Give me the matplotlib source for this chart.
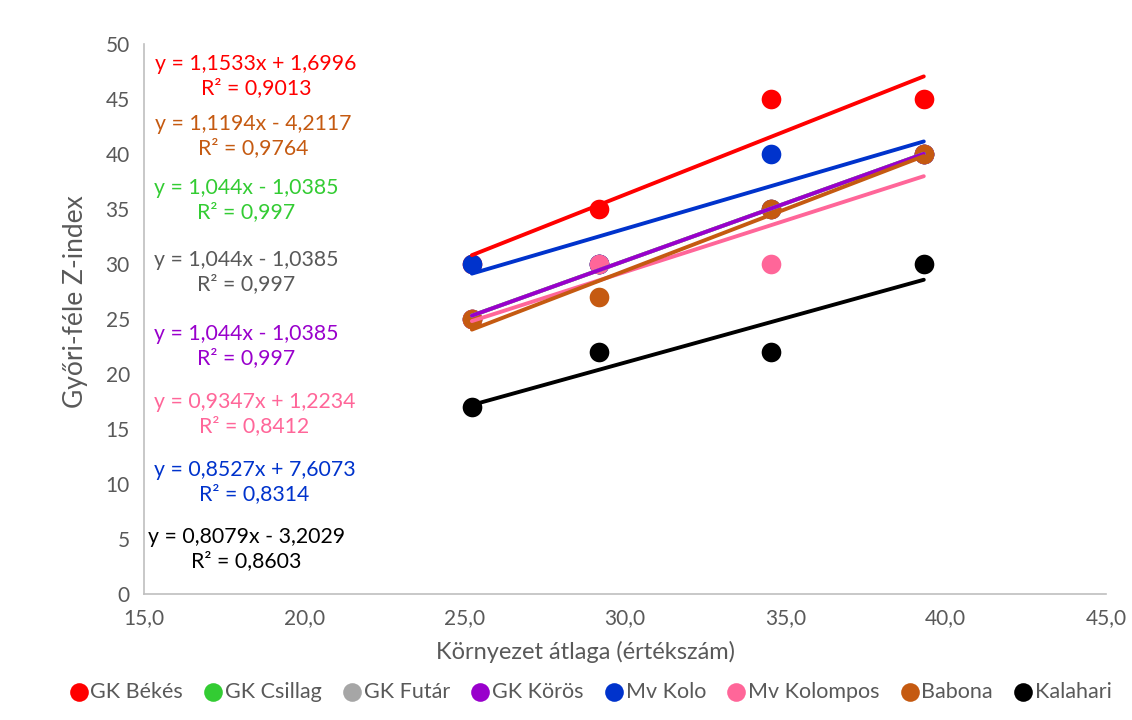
import matplotlib
matplotlib.use('Agg')
import matplotlib.pyplot as plt
import numpy as np

# environment means (x) shared by all genotypes
env_mean = [25.23, 29.19, 34.55, 39.32]

series = ['GK Békés', 'GK Csillag', 'GK Futár', 'GK Körös',
          'Mv Kolo', 'Mv Kolompos', 'Babona', 'Kalahari']
z_bekes = [30, 35, 45, 45]
z_csillag = [25, 30, 35, 40]
z_futar = [25, 30, 35, 40]
z_koros = [25, 30, 35, 40]
z_kolo = [30, 30, 40, 40]
z_kolompos = [25, 30, 30, 40]
z_babona = [25, 27, 35, 40]
z_kalahari = [17, 22, 22, 30]
z_values = [z_bekes, z_csillag, z_futar, z_koros,
            z_kolo, z_kolompos, z_babona, z_kalahari]

# trendline coefficients as printed on the chart
slopes = [1.1533, 1.044, 1.044, 1.044, 0.8527, 0.9347, 1.1194, 0.8079]
intercepts = [1.6996, -1.0385, -1.0385, -1.0385, 7.6073, 1.2234, -4.2117, -3.2029]
r2 = ['0,9013', '0,997', '0,997', '0,997', '0,8314', '0,8412', '0,9764', '0,8603']

colors = ['#FF0000', '#33CC33', '#A6A6A6', '#9900CC',
          '#0033CC', '#FF6699', '#C55A11', '#000000']
text_colors = ['#FF0000', '#33CC33', '#595959', '#9900CC',
               '#0033CC', '#FF6699', '#C55A11', '#000000']

# label anchor (data coords) for each equation box
label_pos = {
    'GK Békés': (18.5, 47.05),
    'Babona': (18.4, 41.6),
    'GK Csillag': (18.2, 35.8),
    'GK Futár': (18.2, 29.25),
    'GK Körös': (18.2, 22.5),
    'Mv Kolompos': (18.45, 16.35),
    'Mv Kolo': (18.45, 10.15),
    'Kalahari': (18.2, 4.05),
}


def eq_text(a, b):
    sign = '+' if b >= 0 else '-'
    return f'y = {a:g}x {sign} {abs(b):.4f}'.replace('.', ',')


plt.rcParams['font.family'] = ['Lato', 'DejaVu Sans']
fig = plt.figure(figsize=(11.32, 7.2), dpi=100)
ax = fig.add_axes([0.127, 0.175, 0.85, 0.764])

x = np.array(env_mean)
for name, z, c in zip(series, z_values, colors):
    ax.scatter(x, z, s=200, color=c, zorder=3, label=name, linewidths=0)

xl = np.array([x.min(), x.max()])
for a, b, c in zip(slopes, intercepts, colors):
    ax.plot(xl, a * xl + b, color=c, lw=2.8, zorder=4, solid_capstyle='round')

for name, a, b, r, tc in zip(series, slopes, intercepts, r2, text_colors):
    px, py = label_pos[name]
    ax.text(px, py, eq_text(a, b) + '\n' + f'R² = {r}', color=tc, fontsize=15.3,
            ha='center', va='center', multialignment='center', linespacing=1.25,
            zorder=5)

ax.set_xlim(15, 45)
ax.set_ylim(0, 50)
ax.set_xticks(np.arange(15, 46, 5))
ax.set_xticklabels([f'{v:.1f}'.replace('.', ',') for v in np.arange(15, 46, 5)])
ax.set_yticks(np.arange(0, 51, 5))
ax.tick_params(length=0, labelsize=15, colors='#595959', pad=10)
for side in ['top', 'right']:
    ax.spines[side].set_visible(False)
for side in ['left', 'bottom']:
    ax.spines[side].set_color('#BFBFBF')
    ax.spines[side].set_linewidth(1.2)

ax.set_xlabel('Környezet átlaga (értékszám)', fontsize=17, color='#595959', labelpad=6)
ax.xaxis.set_label_coords(0.459, -0.085)
ax.set_ylabel('Győri-féle Z-index', fontsize=19, color='#595959', labelpad=6)
ax.yaxis.set_label_coords(-0.058, 0.531)

leg = fig.legend(loc='lower center', bbox_to_anchor=(0.522, 0.0), ncol=8, frameon=False,
                 fontsize=15.5, handlelength=0.8, handletextpad=0.15, columnspacing=1.0,
                 markerscale=0.95, borderaxespad=0.45)
for t in leg.get_texts():
    t.set_color('#595959')

fig.savefig('out.png', dpi=100)
